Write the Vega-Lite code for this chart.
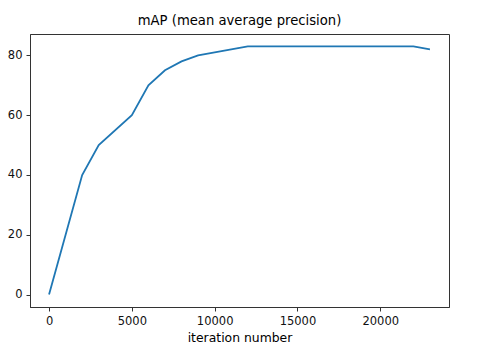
{
  "$schema": "https://vega.github.io/schema/vega-lite/v6.json",
  "width": 419,
  "height": 273,
  "autosize": "none",
  "padding": {"left": 30, "top": 34, "right": 28, "bottom": 53},
  "background": "white",
  "title": {"text": "mAP (mean average precision)", "font": "DejaVu Sans", "fontSize": 13.2, "fontWeight": "normal", "color": "#000000", "offset": 6},
  "config": {
    "view": {"stroke": "#333333", "strokeWidth": 1},
    "axis": {"labelFont": "DejaVu Sans", "titleFont": "DejaVu Sans", "labelFontSize": 11.5, "titleFontSize": 12.4, "titleFontWeight": "normal", "labelColor": "#111111", "titleColor": "#000000", "tickColor": "#333333", "domainColor": "#333333", "grid": false, "tickSize": 4, "labelPadding": 4}
  },
  "data": {"values": [
    {"iteration": 0, "mAP": 0},
    {"iteration": 2000, "mAP": 40},
    {"iteration": 3000, "mAP": 50},
    {"iteration": 5000, "mAP": 60},
    {"iteration": 6000, "mAP": 70},
    {"iteration": 7000, "mAP": 75},
    {"iteration": 8000, "mAP": 78},
    {"iteration": 9000, "mAP": 80},
    {"iteration": 10000, "mAP": 81},
    {"iteration": 11000, "mAP": 82},
    {"iteration": 12000, "mAP": 83},
    {"iteration": 22000, "mAP": 83},
    {"iteration": 23000, "mAP": 82}
  ]},
  "mark": {"type": "line", "color": "#1f77b4", "strokeWidth": 1.8},
  "encoding": {
    "x": {"field": "iteration", "type": "quantitative", "scale": {"domain": [-1150, 24150], "nice": false, "zero": false}, "axis": {"values": [0, 5000, 10000, 15000, 20000], "format": "d", "title": "iteration number", "titlePadding": 5}},
    "y": {"field": "mAP", "type": "quantitative", "scale": {"domain": [-4.15, 87.15], "nice": false, "zero": false}, "axis": {"values": [0, 20, 40, 60, 80], "title": null}}
  }
}
